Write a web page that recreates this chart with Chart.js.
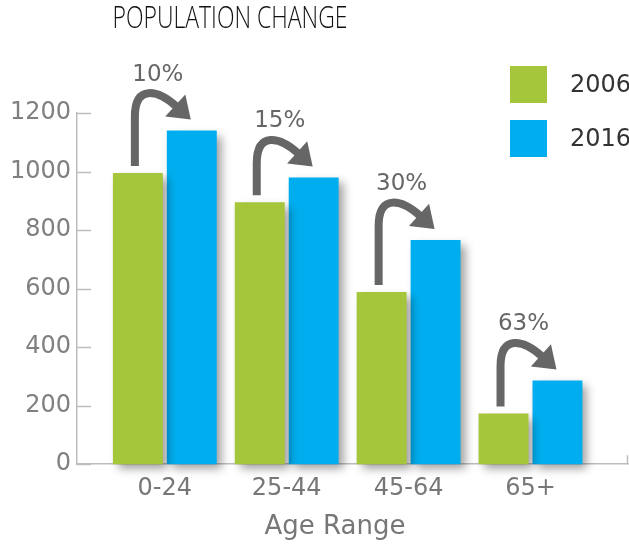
<!DOCTYPE html>
<html>
<head>
<meta charset="utf-8">
<script src="https://cdn.jsdelivr.net/npm/chart.js@4.4.1/dist/chart.umd.min.js"></script>
<style>
  body { margin: 0; background: #fff; }
  canvas { display: block; }
</style>
</head>
<body>
<canvas id="myChart" width="629" height="544"></canvas>
<script>
const ageRanges = ["0-24", "25-44", "45-64", "65+"];
const pop2006 = [995, 895, 588, 173];
const pop2016 = [1140, 980, 766, 286];
const changeLabels = ["10%", "15%", "30%", "63%"];
const seriesNames = ["2006", "2016"];

const green = "#a5c63b";
const blue = "#00aeef";
const arrowGray = "#666666";
const axisGray = "#bdbdbd";
const labelFont = "DejaVu Sans";

// soft drop shadow under the bars
const barShadow = {
  id: "barShadow",
  beforeDatasetsDraw(chart) {
    const ctx = chart.ctx;
    ctx.save();
    ctx.shadowColor = "rgba(0, 0, 0, 0.38)";
    ctx.shadowBlur = 9;
    ctx.shadowOffsetX = 5;
    ctx.shadowOffsetY = 5;
  },
  afterDatasetsDraw(chart) {
    chart.ctx.restore();
  },
};

// title, legend, axis title, inward ticks and the curved change arrows
const extras = {
  id: "extras",
  afterDraw(chart) {
    const ctx = chart.ctx;
    const area = chart.chartArea;
    const y = chart.scales.y;

    ctx.save();
    ctx.strokeStyle = axisGray;
    ctx.lineWidth = 1.5;
    y.ticks.forEach((t) => {
      const py = Math.round(y.getPixelForValue(t.value)) + 0.5;
      ctx.beginPath();
      ctx.moveTo(area.left, py);
      ctx.lineTo(area.left + 14, py);
      ctx.stroke();
    });
    ctx.beginPath();
    ctx.moveTo(area.right - 0.5, area.bottom);
    ctx.lineTo(area.right - 0.5, area.bottom - 9);
    ctx.stroke();

    // title
    const title = "POPULATION CHANGE";
    ctx.fillStyle = "#111";
    ctx.font = "300 31px 'Open Sans'";
    ctx.textAlign = "center";
    ctx.textBaseline = "middle";
    ctx.save();
    ctx.translate(230, 19);
    ctx.scale(235 / ctx.measureText(title).width, 1);
    ctx.fillText(title, 0, 0);
    ctx.restore();

    // x axis title
    ctx.fillStyle = "#777";
    ctx.font = "26px '" + labelFont + "'";
    ctx.fillText("Age Range", 335, 527);

    // legend
    ctx.textAlign = "left";
    ctx.font = "24px '" + labelFont + "'";
    chart.data.datasets.forEach((ds, i) => {
      ctx.fillStyle = ds.backgroundColor;
      ctx.fillRect(510, 66 + i * 54, 37, 37);
      ctx.fillStyle = "#333";
      ctx.fillText(ds.label, 570, 86 + i * 54);
    });

    // arrows
    const g = chart.getDatasetMeta(0).data;
    const b = chart.getDatasetMeta(1).data;
    ctx.strokeStyle = arrowGray;
    ctx.fillStyle = arrowGray;
    ctx.lineWidth = 8;
    changeLabels.forEach((label, i) => {
      const gx = g[i].x, gy = g[i].y, bx = b[i].x, by = b[i].y;
      const sx = gx - 3;
      const tip = { x: bx - 1, y: by - 11 };
      const dir = { x: 0.74, y: 0.67 };
      const base = { x: tip.x - dir.x * 21, y: tip.y - dir.y * 21 };
      ctx.beginPath();
      ctx.moveTo(sx, gy - 7);
      ctx.lineTo(sx, by - 14);
      ctx.bezierCurveTo(sx, by - 46, base.x - dir.x * 24, base.y - dir.y * 24, base.x + dir.x * 2, base.y + dir.y * 2);
      ctx.stroke();
      ctx.beginPath();
      ctx.moveTo(base.x - dir.y * 15, base.y + dir.x * 15);
      ctx.lineTo(tip.x, tip.y);
      ctx.lineTo(base.x + dir.y * 15, base.y - dir.x * 15);
      ctx.closePath();
      ctx.fill();

      ctx.font = "23px '" + labelFont + "'";
      ctx.textAlign = "center";
      ctx.fillText(label, (gx + bx) / 2 - 7, by - 56);
    });
    ctx.restore();
  },
};

const ctx = document.getElementById("myChart").getContext("2d");
new Chart(ctx, {
  type: "bar",
  data: {
    datasets: [
      {
        label: seriesNames[0],
        data: pop2006.map((v, i) => ({ x: i, y: v })),
        backgroundColor: green,
        clip: false,
      },
      {
        label: seriesNames[1],
        data: pop2016.map((v, i) => ({ x: i, y: v })),
        backgroundColor: blue,
        clip: false,
      },
    ],
  },
  options: {
    responsive: false,
    animation: false,
    categoryPercentage: 0.885,
    barPercentage: 0.926,
    layout: { padding: { top: 113, left: 4, right: 1, bottom: 31 } },
    plugins: {
      legend: { display: false },
      tooltip: { enabled: false },
    },
    scales: {
      x: {
        type: "linear",
        offset: false,
        min: -0.72,
        max: 3.8,
        afterBuildTicks: (scale) => {
          scale.ticks = ageRanges.map((_, i) => ({ value: i }));
        },
        ticks: {
          callback: (value) => ageRanges[value],
          autoSkip: false,
          maxRotation: 0,
          padding: 10,
          color: "#777",
          font: { family: labelFont, size: 24 },
        },
        grid: { display: false, drawTicks: false, offset: false },
        border: { display: true, color: axisGray, width: 1.5 },
      },
      y: {
        min: 0,
        max: 1200,
        ticks: {
          stepSize: 200,
          padding: 6,
          callback: (value) => String(value),
          color: "#808080",
          font: { family: labelFont, size: 24 },
        },
        grid: { display: false, drawTicks: false },
        border: { display: true, color: axisGray, width: 1.5 },
      },
    },
  },
  plugins: [barShadow, extras],
});
</script>
</body>
</html>
